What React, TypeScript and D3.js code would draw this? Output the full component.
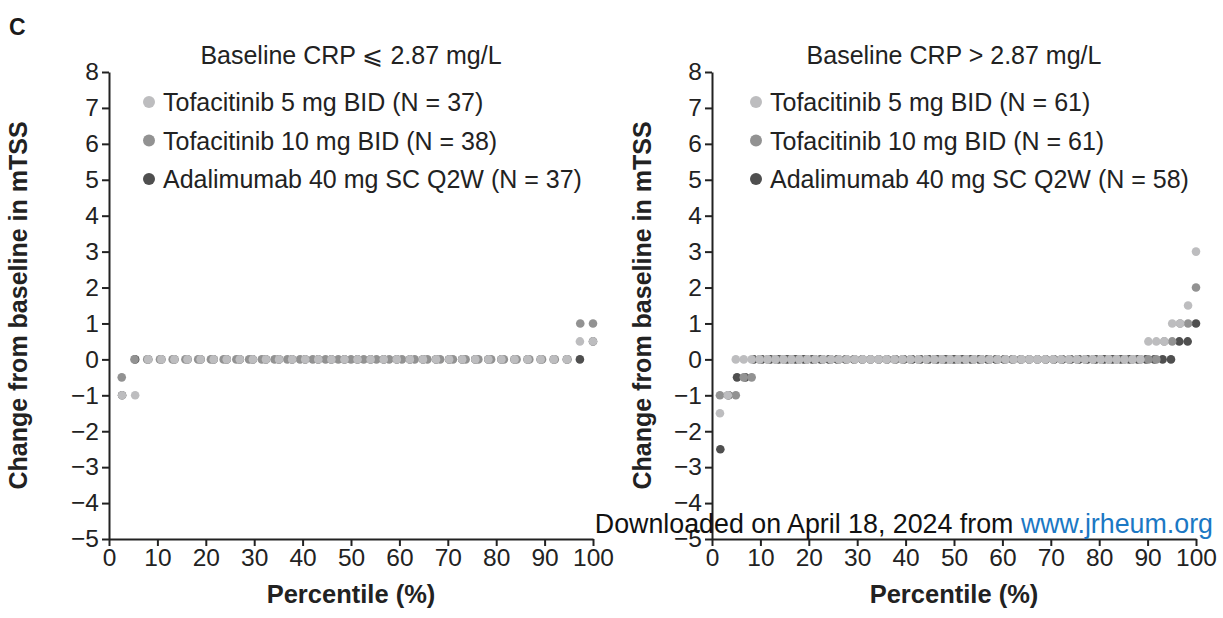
import * as d3 from "d3";
import { useEffect, useRef } from "react";

// run-length lists: [change in mTSS, number of patients], sorted by value
const lowTofa5: [number, number][] = [[-1, 2], [0, 33], [0.5, 2]];
const lowTofa10: [number, number][] = [[-0.5, 1], [0, 35], [1, 2]];
const lowAda: [number, number][] = [[-1, 1], [0, 35], [0.5, 1]];

const highTofa5: [number, number][] = [[-1.5, 1], [-1, 1], [0, 52], [0.5, 3], [1, 2], [1.5, 1], [3, 1]];
const highTofa10: [number, number][] = [[-1, 3], [-0.5, 2], [0, 51], [0.5, 2], [1, 2], [2, 1]];
const highAda: [number, number][] = [[-2.5, 1], [-1, 1], [-0.5, 2], [0, 51], [0.5, 2], [1, 1]];

const seriesNames = ["Tofacitinib 5 mg BID", "Tofacitinib 10 mg BID", "Adalimumab 40 mg SC Q2W"];
const lowN = [37, 38, 37];
const highN = [61, 61, 58];
const panelTitles = ["Baseline CRP \u2a7d 2.87 mg/L", "Baseline CRP > 2.87 mg/L"];
const xTicks = [0, 10, 20, 30, 40, 50, 60, 70, 80, 90, 100];
const yTicks = [-5, -4, -3, -2, -1, 0, 1, 2, 3, 4, 5, 6, 7, 8];

const colors = ["#bdbdbf", "#929292", "#4f4f4f"];
const font = "'Liberation Sans', Arial, Helvetica, sans-serif";

function expand(runs: [number, number][]) {
  const out: number[] = [];
  runs.forEach(([v, c]) => { for (let k = 0; k < c; k++) out.push(v); });
  return out;
}

function draw(node: SVGSVGElement) {
  const width = 1223;
  const height = 618;
  const svg = d3.select(node)
      .attr("width", width)
      .attr("height", height)
      .attr("viewBox", [0, 0, width, height])
      .style("font-family", font);

  svg.append("text")
      .attr("x", 9)
      .attr("y", 35)
      .attr("font-weight", "bold")
      .attr("font-size", 23)
      .attr("fill", "#1a1a1a")
      .text("C");

  const panels = [
    { left: 109, yTitleX: 27, title: panelTitles[0], n: lowN, runs: [lowTofa5, lowTofa10, lowAda] },
    { left: 712, yTitleX: 651, title: panelTitles[1], n: highN, runs: [highTofa5, highTofa10, highAda] },
  ];

  panels.forEach((p) => {
    const x = d3.scaleLinear().domain([0, 100]).range([p.left, p.left + 484]);
    const y = d3.scaleLinear().domain([-5, 8]).range([539, 72]);
    const g = svg.append("g");

    // points: adalimumab at the bottom, tofacitinib 5 mg on top
    [2, 1, 0].forEach((s) => {
      const vals = expand(p.runs[s]);
      g.append("g")
          .attr("fill", colors[s])
        .selectAll()
        .data(vals)
        .join("circle")
          .attr("cx", (_, i) => x(((i + 1) / vals.length) * 100))
          .attr("cy", (d) => y(d))
          .attr("r", 4.3);
    });

    g.append("g")
        .attr("transform", `translate(0,${y(-5)})`)
        .call(d3.axisBottom(x).tickValues(xTicks).tickSize(7).tickSizeOuter(0).tickPadding(3))
        .call((a) => a.selectAll("text").attr("font-size", 24.5).attr("fill", "#222").style("font-family", font))
        .call((a) => a.selectAll("line,path").attr("stroke", "#222").attr("stroke-width", 2));

    g.append("g")
        .attr("transform", `translate(${p.left},0)`)
        .call(d3.axisLeft(y).tickValues(yTicks).tickSize(7).tickSizeOuter(0).tickPadding(3))
        .call((a) => a.selectAll("text").attr("font-size", 24.5).attr("fill", "#222").style("font-family", font))
        .call((a) => a.selectAll("line,path").attr("stroke", "#222").attr("stroke-width", 2));

    g.append("text")
        .attr("x", x(50))
        .attr("y", 64)
        .attr("text-anchor", "middle")
        .attr("font-size", 25)
        .attr("fill", "#222")
        .text(p.title);

    g.append("text")
        .attr("x", x(50))
        .attr("y", 603)
        .attr("text-anchor", "middle")
        .attr("font-size", 25.5)
        .attr("font-weight", "bold")
        .attr("fill", "#222")
        .text("Percentile (%)");

    g.append("text")
        .attr("transform", `translate(${p.yTitleX},${(y(8) + y(-5)) / 2}) rotate(-90)`)
        .attr("text-anchor", "middle")
        .attr("font-size", 25)
        .attr("font-weight", "bold")
        .attr("fill", "#222")
        .text("Change from baseline in mTSS");

    const legend = g.append("g")
      .selectAll()
      .data(seriesNames)
      .join("g")
        .attr("transform", (_, i) => `translate(${p.left + 40 + (p.left > 500 ? 4 : 0)},${102 + i * 38.5})`);
    legend.append("circle")
        .attr("r", 6)
        .attr("fill", (_, i) => colors[i]);
    legend.append("text")
        .attr("x", 14)
        .attr("dy", "0.36em")
        .attr("font-size", 25)
        .attr("fill", "#222")
        .text((d, i) => `${d} (N = ${p.n[i]})`);
  });

  // watermark sits over the right panel's lower tick labels, as in the source
  const note = svg.append("text")
      .attr("x", 1213)
      .attr("y", 533)
      .attr("text-anchor", "end")
      .attr("font-size", 26.8)
      .attr("fill", "#111");
  note.append("tspan").text("Downloaded on April 18, 2024 from ");
  note.append("tspan").attr("fill", "#1b78c4").text("www.jrheum.org");
}

export default function App() {
  const ref = useRef<SVGSVGElement | null>(null);
  useEffect(() => {
    if (ref.current) {
      d3.select(ref.current).selectAll("*").remove();
      draw(ref.current);
    }
  }, []);
  return (
    <div style={{ position: "absolute", left: 0, top: 0, background: "#fff" }}>
      <svg ref={ref} style={{ display: "block" }} />
    </div>
  );
}
